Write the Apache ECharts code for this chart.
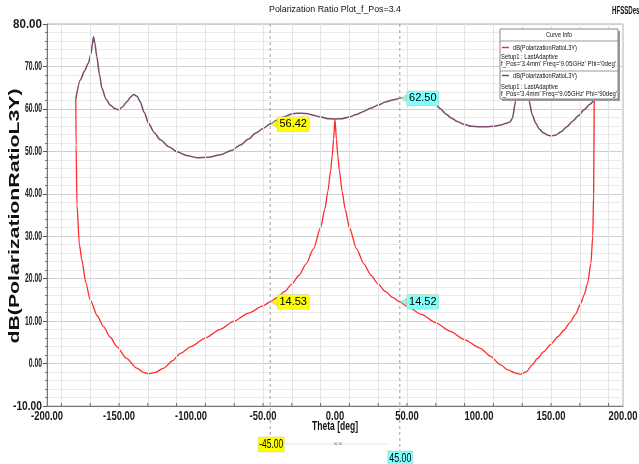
<!DOCTYPE html>
<html><head><meta charset="utf-8">
<script src="https://cdn.jsdelivr.net/npm/echarts@6/dist/echarts.min.js"></script>
<style>html,body{margin:0;padding:0;background:#fff}#c{width:639px;height:464px}</style>
</head><body><div id="c"></div>
<script>
// ---- data ----
const yTicks = [-10, 0, 10, 20, 30, 40, 50, 60, 70, 80];
const xTicks = [-200, -150, -100, -50, 0, 50, 100, 150, 200];
const gridTheta = [-190, -170, -150, -130, -110, -90, -70, -50, -30, -10, 10, 30, 50, 70, 90, 110, 130, 150, 170, 190];

// Phi = 0deg (red)
const thetaPhi0 = [-180, -179.8, -179.2, -177.5, -175.8, -173, -170, -165, -160.8, -156, -151.5, -145, -137.6, -133, -129.5, -125, -119, -113, -107.4, -100, -90, -80, -70, -60, -50, -45, -40, -35, -30, -25, -20, -15, -10, -7, -5, -3, -2, -1, 0, 1, 2, 3, 5, 7, 10, 15, 20, 25, 30, 35, 40, 45, 50, 60, 70, 80, 90, 101, 108, 115, 120, 125, 129, 133, 137, 140.6, 145, 150, 155, 159.1, 163, 167, 170.7, 173, 175.4, 177.7, 179, 179.6, 180];
const dbPhi0 = [62.3, 51.5, 37.4, 28.0, 24.4, 19.0, 15.0, 11.2, 8.7, 6.2, 4.0, 1.3, -1.1, -2.1, -2.45, -2.1, -1.1, 0.6, 2.4, 4.0, 6.0, 8.0, 10.0, 11.9, 13.6, 14.53, 15.6, 17.0, 18.7, 20.8, 23.5, 27.0, 32.0, 36.5, 40.5, 45.5, 48.8, 52.8, 57.6, 52.8, 48.8, 45.5, 40.5, 36.5, 32.0, 27.0, 23.5, 20.8, 18.7, 17.0, 15.6, 14.52, 13.5, 11.6, 9.6, 7.6, 5.6, 3.6, 1.7, -0.3, -1.5, -2.2, -2.5, -1.9, -0.3, 1.2, 2.8, 4.6, 6.4, 7.9, 9.6, 11.6, 14.2, 16.2, 18.9, 23.6, 30.0, 40.0, 62.3];

// Phi = 90deg (purple)
const thetaPhi90 = [-180, -176.8, -174, -171.2, -169.5, -168.5, -167.7, -166.8, -165.4, -163.5, -161.9, -159, -156.1, -153, -150.3, -147.5, -144.5, -142, -139.9, -137.5, -135.3, -132.5, -129.5, -125.5, -121.3, -115, -109.7, -103, -95.8, -88, -79.6, -72, -65.7, -60, -55, -50, -45, -40, -35, -30, -26, -20, -15, -10, -5, 0, 5, 10, 15, 20, 25, 30, 35, 40, 45, 50, 55, 60, 65, 69, 73, 77, 81, 85, 90, 95, 100, 105, 110, 115, 119, 121.5, 123.2, 125.5, 127.5, 130, 132.5, 134.7, 137, 139.4, 142, 145, 148, 150, 153, 157, 161, 165, 169, 173, 177, 180];
const dbPhi90 = [62.3, 66.8, 68.9, 70.8, 73.0, 75.2, 77.0, 75.5, 72.3, 68.0, 64.9, 62.3, 60.9, 60.1, 59.8, 60.5, 61.7, 62.8, 63.4, 63.0, 61.7, 59.2, 56.6, 54.4, 52.7, 51.0, 49.9, 49.0, 48.5, 48.6, 49.2, 50.2, 51.5, 52.9, 54.3, 55.4, 56.42, 57.4, 58.2, 58.8, 59.0, 58.9, 58.5, 58.1, 57.7, 57.6, 57.7, 58.1, 58.7, 59.4, 60.2, 60.9, 61.6, 62.1, 62.5, 62.7, 62.8, 62.6, 62.2, 61.4, 60.1, 58.8, 57.8, 57.0, 56.3, 55.9, 55.8, 55.8, 55.9, 56.2, 56.6, 56.9, 57.8, 62.0, 66.0, 70.0, 67.0, 62.0, 58.6, 56.6, 55.2, 54.3, 53.8, 53.6, 53.8, 54.6, 55.8, 57.1, 58.4, 59.8, 61.1, 62.2];

const markerTheta = [-45, 45];
const markerPhi0 = [14.53, 14.52];
const markerPhi90 = [56.42, 62.50];
const markerColors = ['#ffff00', '#80ffff'];

const titleText = 'Polarization Ratio Plot_f_Pos=3.4';
const designText = 'HFSSDesign1';
const yName = 'dB(PolarizationRatioL3Y)';
const xName = 'Theta [deg]';
const legendTitle = 'Curve Info';
const legendNames = ['dB(PolarizationRatioL3Y)', 'dB(PolarizationRatioL3Y)'];
const legendSetup = ['Setup1 : LastAdaptive', 'Setup1 : LastAdaptive'];
const legendVars = ["f_Pos='3.4mm' Freq='9.05GHz' Phi='0deg'", "f_Pos='3.4mm' Freq='9.05GHz' Phi='90deg'"];

// ---- chart ----
const FN = "'Liberation Sans',Arial,sans-serif";
const RED = '#ff2a2a', PURPLE = '#7a4b6c';
const mctx = document.createElement('canvas').getContext('2d');
function textW(text, font) { mctx.font = font; return mctx.measureText(text).width; }
function fitScale(text, font, w) { return w / textW(text, font); }

const chart = echarts.init(document.getElementById('c'), null, {renderer: 'canvas'});

function markers(vals) {
  return markerTheta.map((t, i) => ({
    coord: [t, vals[i]], value: vals[i],
    itemStyle: {color: markerColors[i], borderColor: '#b8b860', borderWidth: 0.5},
    label: {backgroundColor: markerColors[i]}
  }));
}
const markBase = {
  symbol: 'triangle', symbolSize: [7, 6], symbolRotate: 90, symbolOffset: [4, 0],
  silent: true,
  label: {show: true, position: 'right', distance: 0, color: '#000', fontFamily: FN, fontSize: 11,
    padding: [2, 2, 1, 2], borderColor: '#c8c890', borderWidth: 0.5,
    formatter: p => Number(p.value).toFixed(2)}
};

chart.setOption({
  animation: false,
  backgroundColor: '#fff',
  grid: {left: 47, right: 16, top: 24, bottom: 58, show: true, borderColor: '#b0b0b0', borderWidth: 1, containLabel: false},
  xAxis: {
    type: 'value', min: xTicks[0], max: xTicks[xTicks.length - 1], interval: 50,
    axisLine: {show: true, onZero: false, lineStyle: {color: '#777'}},
    axisTick: {show: false},
    splitLine: {show: false},
    axisLabel: {show: false}
  },
  yAxis: {
    type: 'value', min: yTicks[0], max: yTicks[yTicks.length - 1], interval: 10,
    axisLine: {show: true, onZero: false, lineStyle: {color: '#777'}},
    axisTick: {show: true, inside: false, length: 4, lineStyle: {color: '#555'}},
    minorTick: {show: true, splitNumber: 5, length: 2, lineStyle: {color: '#777'}},
    splitLine: {show: true, lineStyle: {color: '#cfcfcf', width: 1}},
    minorSplitLine: {show: true, lineStyle: {color: '#ebebeb', width: 1}},
    axisLabel: {show: false}
  },
  series: [
    {type: 'line', data: [], z: 1, silent: true,
     markLine: {silent: true, symbol: 'none', animation: false, label: {show: false},
       lineStyle: {color: '#e4e4e4', width: 1, type: 'solid'},
       data: gridTheta.map(v => ({xAxis: v}))}},
    {name: 'Phi90', type: 'line', z: 3, showSymbol: false, smooth: 0.25, smoothMonotone: 'x',
     data: thetaPhi90.map((t, i) => [t, dbPhi90[i]]),
     lineStyle: {color: PURPLE, width: 1.5},
     markPoint: Object.assign({}, markBase, {data: markers(markerPhi90)})},
    {name: 'Phi0', type: 'line', z: 4, showSymbol: false, smooth: 0.25, smoothMonotone: 'x',
     data: thetaPhi0.map((t, i) => [t, dbPhi0[i]]),
     lineStyle: {color: RED, width: 1.3},
     markPoint: Object.assign({}, markBase, {data: markers(markerPhi0)})}
  ]
});

// ---- annotations ----
const px = (x, y) => chart.convertToPixel({gridIndex: 0}, [x, y]);
const pTop = px(0, yTicks[yTicks.length - 1])[1];
const pBot = px(0, yTicks[0])[1];
const xm = px(markerTheta[0], 0)[0];
const xp = px(markerTheta[1], 0)[0];
const x0 = px(0, 0)[0];

function txt(text, x, y, font, opts) {
  opts = opts || {};
  const el = {type: 'text', x: x, y: y, z: opts.z || 100, silent: true,
    style: {text: text, font: font, fill: opts.fill || '#111',
      textAlign: opts.align || 'left', align: opts.align || 'left',
      textVerticalAlign: 'middle', verticalAlign: 'middle'}};
  if (opts.w) el.scaleX = fitScale(text, font, opts.w);
  if (opts.sx) el.scaleX = opts.sx;
  if (opts.rot) el.rotation = opts.rot;
  return el;
}
const LF = '8px ' + FN;
const TF = 'bold 13px ' + FN;
const lx = 500, ly = 29, lw = 118, lh = 70;
const g = [];
// tick labels (positions from the axes)
const ySx = 17 / textW('70.00', TF);
yTicks.forEach(v => {
  const s = v.toFixed(2);
  const end = (v === yTicks[0] || v === yTicks[yTicks.length - 1]);
  g.push(txt(s, 42, px(0, v)[1], TF, {align: 'right', sx: end ? 29 / textW(s, TF) : ySx, fill: '#1a1a1a'}));
});
const xSx = 32 / textW('-150.00', TF);
xTicks.forEach(v => {
  g.push(txt(v.toFixed(2), px(v, 0)[0], pBot + 10, TF, {align: 'center', sx: xSx, fill: '#1a1a1a'}));
});
// small bottom ticks every grid step
gridTheta.forEach(v => {
  const x = px(v, 0)[0];
  g.push({type: 'line', z: 5, silent: true, shape: {x1: x, y1: pBot, x2: x, y2: pBot - 3}, style: {stroke: '#666', lineWidth: 1}});
});
g.push(
  txt(titleText, 335, 10, '9px ' + FN, {align: 'center', w: 132}),
  txt(designText, 612, 11, 'bold 10px ' + FN, {w: 40}),
  txt(yName, 15, 216, 'bold 14px ' + FN, {align: 'center', rot: Math.PI / 2, w: 255}),
  txt(xName, x0, 427, 'bold 12px ' + FN, {align: 'center', w: 46}),
  {type: 'line', z: 5, silent: true, shape: {x1: xm, y1: pTop, x2: xm, y2: 437}, style: {stroke: '#a0a0a0', lineWidth: 1, lineDash: [3, 3]}},
  {type: 'line', z: 5, silent: true, shape: {x1: xp, y1: pTop, x2: xp, y2: 451}, style: {stroke: '#a0a0a0', lineWidth: 1, lineDash: [3, 3]}},
  {type: 'line', z: 5, silent: true, shape: {x1: xm + 14, y1: 444, x2: xp - 12, y2: 444}, style: {stroke: '#e6e6e6', lineWidth: 1}},
  txt('××', x0 + 3, 444, '8px ' + FN, {align: 'center', fill: '#888'}),
  {type: 'rect', z: 50, silent: true, shape: {x: xm - 12, y: 437, width: 26, height: 15}, style: {fill: markerColors[0], stroke: '#c8c890', lineWidth: 0.5}},
  txt(markerTheta[0].toFixed(2), xm + 1, 445, '12px ' + FN, {align: 'center', z: 60, fill: '#000', w: 24}),
  {type: 'rect', z: 50, silent: true, shape: {x: xp - 12, y: 451, width: 25, height: 15}, style: {fill: markerColors[1], stroke: '#90c8c8', lineWidth: 0.5}},
  txt(markerTheta[1].toFixed(2), xp + 0.5, 459, '12px ' + FN, {align: 'center', z: 60, fill: '#000', w: 22}),
  // legend box
  {type: 'rect', z: 90, silent: true, shape: {x: lx + 2, y: ly + 2, width: lw, height: lh}, style: {fill: '#9a9a9a'}},
  {type: 'rect', z: 91, silent: true, shape: {x: lx, y: ly, width: lw, height: lh}, style: {fill: '#fff', stroke: '#888', lineWidth: 1}},
  {type: 'line', z: 92, silent: true, shape: {x1: lx, y1: 41, x2: lx + lw, y2: 41}, style: {stroke: '#999', lineWidth: 1}},
  {type: 'line', z: 92, silent: true, shape: {x1: lx, y1: 71, x2: lx + lw, y2: 71}, style: {stroke: '#999', lineWidth: 1}},
  txt(legendTitle, 559, 35, LF, {align: 'center', w: 26}),
  {type: 'line', z: 92, silent: true, shape: {x1: 502, y1: 47.5, x2: 509, y2: 47.5}, style: {stroke: RED, lineWidth: 1.5}},
  txt(legendNames[0], 513, 48, LF, {w: 64}),
  txt(legendSetup[0], 501, 56.5, LF, {w: 57}),
  txt(legendVars[0], 501, 64, LF, {w: 115}),
  {type: 'line', z: 92, silent: true, shape: {x1: 502, y1: 75.5, x2: 509, y2: 75.5}, style: {stroke: PURPLE, lineWidth: 1.5}},
  txt(legendNames[1], 513, 76, LF, {w: 64}),
  txt(legendSetup[1], 501, 86.5, LF, {w: 57}),
  txt(legendVars[1], 501, 94, LF, {w: 116})
);
chart.setOption({graphic: {elements: g}});
</script></body></html>
